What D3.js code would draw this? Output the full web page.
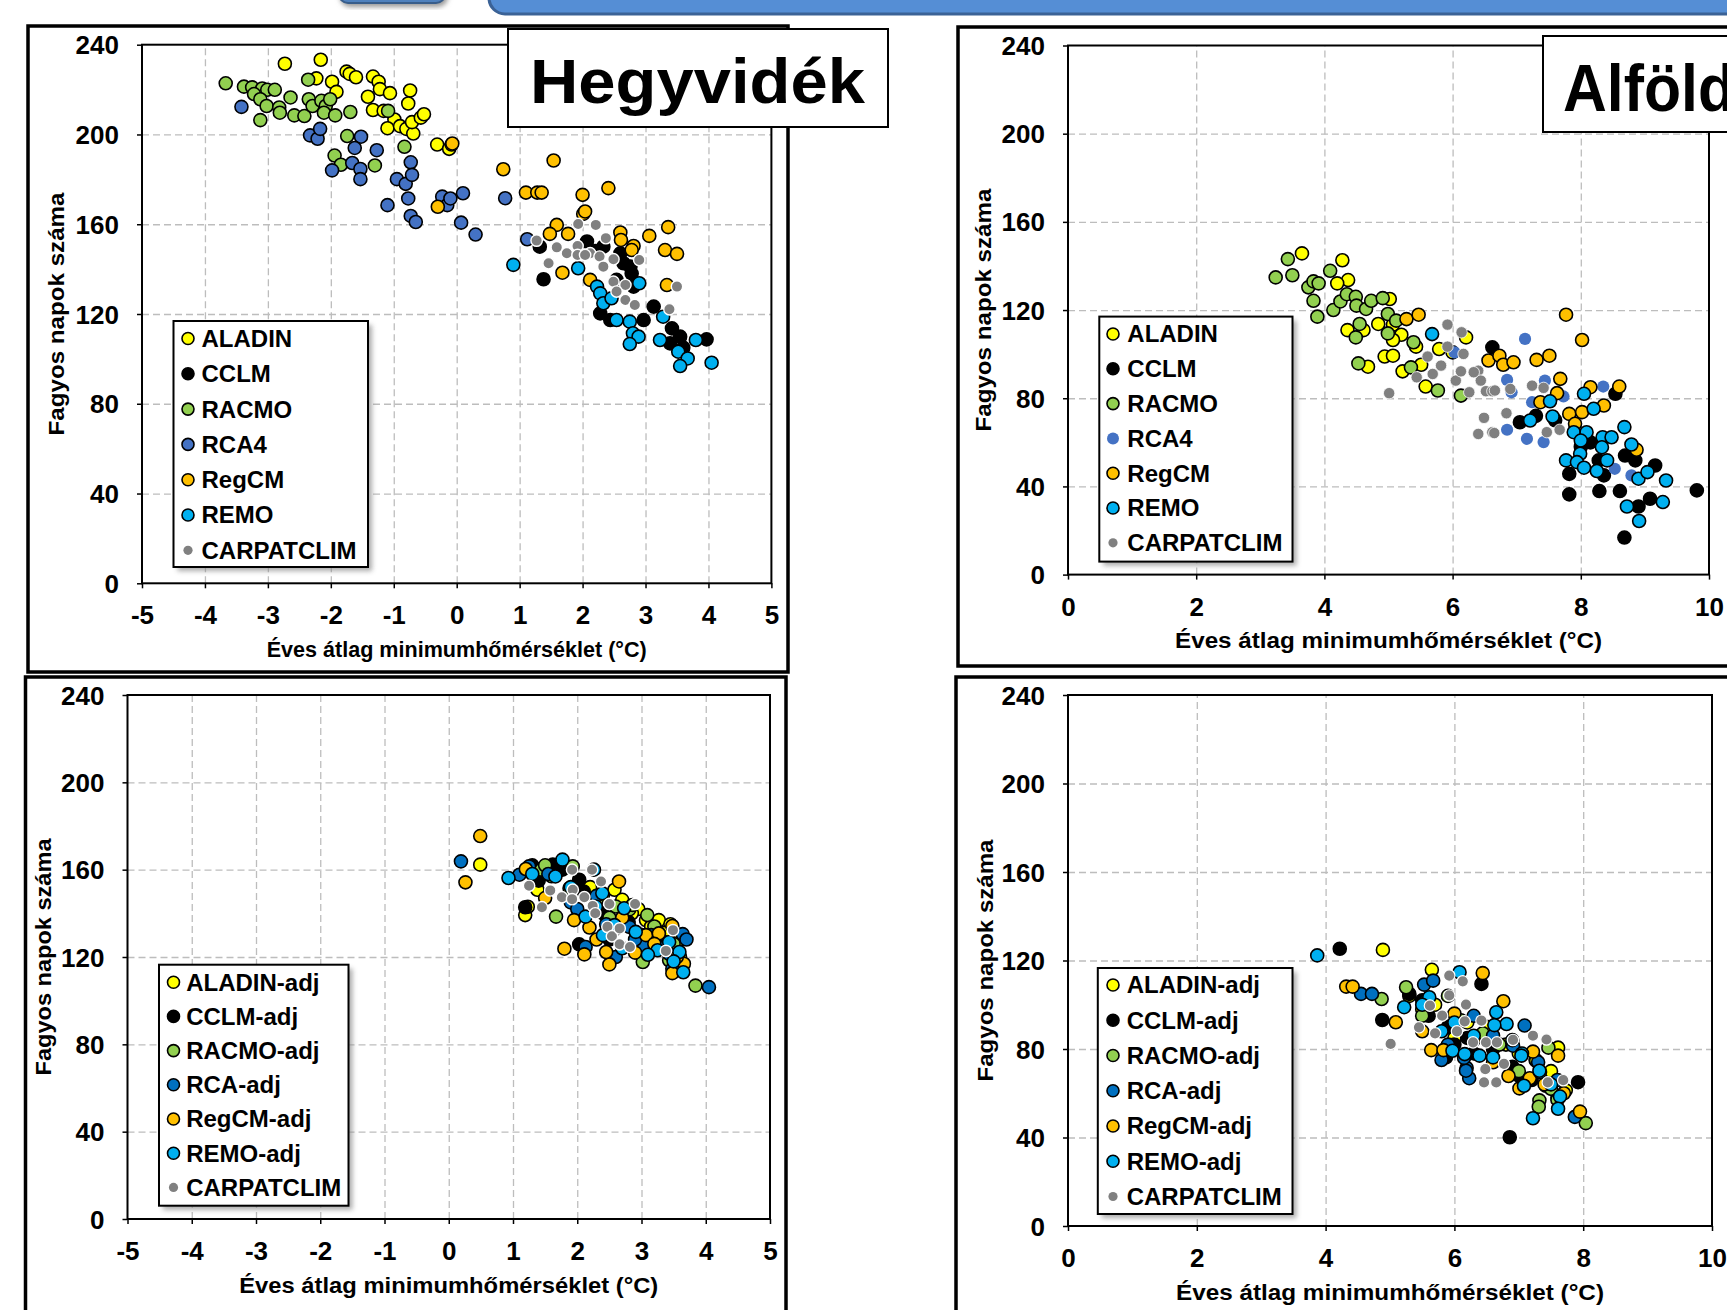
<!DOCTYPE html>
<html lang="hu">
<head>
<meta charset="utf-8">
<title>Fagyos napok száma</title>
<script src="https://cdn.jsdelivr.net/npm/d3@7"></script>
<style>
body { margin: 0; background: #fff; }
svg { display: block; font-family: "Liberation Sans", Arial, sans-serif; font-weight: bold; }
</style>
</head>
<body>
<svg id="chart" width="1727" height="1310"></svg>
<script>
// ---- adatok (leolvasva) ----
const rawNames = ["ALADIN", "CCLM", "RACMO", "RCA4", "RegCM", "REMO", "CARPATCLIM"];
const adjNames = ["ALADIN-adj", "CCLM-adj", "RACMO-adj", "RCA-adj", "RegCM-adj", "REMO-adj", "CARPATCLIM"];
const yTicks = [0, 40, 80, 120, 160, 200, 240];
const xTicksHegy = [-5, -4, -3, -2, -1, 0, 1, 2, 3, 4, 5];
const xTicksAlfold = [0, 2, 4, 6, 8, 10];

// Hegyvidék, modellek
const hegyAladin = [[-2.73,231.5],[-2.16,233.3],[-2.23,225.0],[-1.98,223.5],[-1.91,219.0],[-1.75,228.0],[-1.70,227.0],[-1.60,225.5],[-1.33,225.8],[-1.24,223.5],[-1.22,220.2],[-1.06,218.4],[-1.41,216.8],[-1.33,210.9],[-1.16,210.5],[-0.74,219.6],[-0.77,213.8],[-0.99,206.7],[-1.10,202.8],[-0.90,203.7],[-0.80,202.5],[-0.69,200.4],[-0.71,205.5],[-0.57,207.5],[-0.52,209.0],[-0.31,195.5],[-0.12,193.6],[-0.08,195.5]];
const hegyCclm = [[1.38,135.5],[2.28,120.3],[2.44,117.3],[3.13,123.3],[3.42,113.6],[3.55,109.9],[3.97,108.7],[2.07,152.3],[2.33,150.0],[2.65,142.6],[2.76,141.1],[2.54,135.2],[2.81,132.2],[2.97,117.3],[3.39,106.9],[1.32,150.0],[2.78,138.0],[2.20,148.0],[2.60,147.0],[3.60,105.0]];
const hegyRacmo = [[-3.67,222.8],[-3.38,221.3],[-3.25,221.0],[-3.09,220.5],[-3.01,219.9],[-2.89,219.9],[-3.22,218.0],[-3.12,215.7],[-3.02,212.7],[-2.82,212.0],[-2.81,209.7],[-2.64,216.5],[-2.58,208.5],[-2.42,208.2],[-2.36,224.4],[-2.35,215.7],[-2.29,212.7],[-2.15,215.0],[-2.08,212.7],[-2.11,209.7],[-2.01,215.7],[-1.93,208.5],[-1.69,210.0],[-3.12,206.4],[-1.74,199.3],[-1.94,190.6],[-1.84,186.5],[-1.30,186.2],[-1.09,210.5],[-0.83,194.5]];
const hegyRca = [[-3.42,212.3],[-2.33,199.6],[-2.21,198.1],[-2.17,202.5],[-1.52,199.0],[-1.62,194.0],[-1.27,193.0],[-1.98,184.0],[-1.66,187.3],[-1.53,184.6],[-1.53,180.1],[-0.95,180.1],[-0.81,178.0],[-0.73,187.6],[-0.71,182.0],[-0.77,171.5],[-1.10,168.5],[-0.73,163.7],[-0.65,161.0],[-0.23,172.3],[-0.15,168.5],[-0.10,171.5],[0.10,173.8],[0.07,160.7],[0.30,155.4],[0.77,171.6],[1.12,153.3]];
const hegyRegcm = [[-0.07,196.0],[-0.30,167.8],[0.74,184.5],[1.54,188.4],[1.10,174.1],[1.28,174.1],[1.35,174.1],[2.00,173.1],[2.41,176.1],[2.01,164.6],[2.04,165.7],[1.59,159.7],[1.48,155.7],[1.77,155.7],[2.60,156.3],[2.61,153.0],[2.81,150.3],[2.78,148.5],[3.06,154.8],[3.36,158.7],[3.31,148.5],[3.50,146.8],[1.68,138.4],[2.12,135.2],[3.34,132.9]];
const hegyRemo = [[0.90,141.9],[1.93,140.4],[2.23,132.2],[2.28,129.2],[2.33,124.8],[2.46,127.0],[2.54,117.3],[2.75,116.6],[2.80,111.4],[2.89,109.9],[2.75,106.6],[2.90,133.7],[3.23,108.4],[3.28,118.8],[3.52,103.2],[3.67,100.2],[3.55,96.8],[3.80,108.4],[4.05,98.3]];
const hegyCarpat = [[1.27,152.7],[1.59,149.7],[1.46,142.6],[1.93,160.1],[2.21,159.7],[2.37,153.8],[1.75,147.1],[1.92,150.3],[1.92,146.3],[2.12,147.1],[2.27,145.6],[2.33,141.1],[2.49,144.4],[2.90,144.1],[2.49,134.4],[2.68,132.9],[2.54,130.0],[2.68,126.2],[2.83,124.0],[3.38,122.1],[3.50,132.2],[2.04,146.3]];

// Alföld, modellek
const alfAladin = [[3.65,145.7],[4.28,142.6],[4.37,133.6],[4.20,132.1],[5.02,125.0],[4.36,110.9],[4.61,110.9],[4.84,113.7],[5.07,113.4],[5.20,108.8],[5.07,106.4],[4.94,98.9],[5.07,99.3],[4.68,94.3],[5.22,92.2],[5.43,103.4],[5.51,95.2],[5.58,85.3],[6.21,107.6],[5.79,102.3],[6.00,100.8]];
const alfCclm = [[6.62,103.1],[7.05,69.1],[7.82,45.7],[7.82,36.4],[8.29,37.9],[8.61,37.9],[8.36,45.0],[8.69,54.0],[8.85,51.8],[9.16,49.5],[9.08,34.4],[8.90,30.9],[8.68,16.8],[9.81,38.2],[8.54,82.0],[8.28,51.8],[7.30,72.0],[7.60,70.0],[8.15,60.0],[8.00,58.0]];
const alfRacmo = [[3.24,134.8],[3.43,143.1],[3.50,135.8],[3.75,130.3],[3.83,133.0],[3.91,132.1],[3.83,124.2],[3.89,117.0],[4.09,137.8],[4.14,120.0],[4.25,123.9],[4.35,127.2],[4.49,126.0],[4.50,122.0],[4.65,120.5],[4.73,124.2],[4.91,125.4],[4.99,118.2],[4.55,113.7],[4.49,107.6],[4.99,109.4],[5.12,115.2],[5.39,105.4],[4.53,95.8],[5.35,94.0],[5.77,83.5],[6.13,81.2]];
const alfRca = [[6.03,100.8],[7.13,106.9],[8.35,85.3],[6.85,88.3],[6.92,82.7],[7.24,78.2],[7.44,88.0],[7.73,80.8],[6.85,65.7],[7.16,61.6],[7.42,60.1],[8.53,48.0],[8.79,45.0]];
const alfRegcm = [[5.28,115.9],[5.47,117.9],[7.77,117.9],[8.02,106.4],[6.56,97.1],[6.73,99.3],[6.79,95.2],[6.95,96.3],[7.31,97.4],[7.51,99.3],[7.68,88.8],[7.63,82.3],[7.37,78.2],[7.82,72.9],[8.02,73.7],[7.91,68.4],[8.15,85.0],[8.60,85.3],[8.36,76.7],[8.87,56.6]];
const alfRemo = [[5.68,109.1],[8.05,82.0],[7.52,78.6],[7.56,71.7],[7.21,69.9],[8.20,75.2],[7.89,64.6],[8.09,64.6],[8.00,60.8],[8.34,62.3],[8.48,62.3],[8.33,57.8],[8.68,66.9],[8.79,59.0],[7.99,54.8],[7.77,51.8],[7.94,51.0],[8.05,48.5],[8.25,47.0],[8.41,51.8],[8.90,43.5],[9.04,46.5],[9.33,42.7],[8.72,30.9],[8.91,24.3],[9.28,32.9]];
const alfCarpat = [[5.01,82.3],[5.44,89.5],[5.61,98.9],[5.69,91.0],[5.82,94.8],[5.92,113.4],[5.92,103.4],[6.14,109.9],[6.17,100.1],[6.05,88.0],[6.13,92.2],[6.26,82.7],[6.40,92.5],[6.44,88.0],[6.52,83.2],[6.62,83.2],[6.49,71.1],[6.40,63.8],[6.62,64.6],[6.33,91.8],[6.66,83.5],[6.90,84.2],[7.24,85.7],[7.42,84.7],[6.84,73.2],[6.65,64.2],[7.47,64.6],[7.67,65.7]];

// Hegyvidék, korrigált
const hegyAdjAladin = [[0.49,162.3],[1.19,139.2],[1.38,150.8],[2.58,150.8],[3.27,136.9],[2.70,146.2],[3.07,136.9],[1.23,143.0],[2.95,142.0],[3.45,135.0],[1.55,160.0],[2.20,152.0],[2.40,148.0],[2.85,140.0],[3.15,134.0],[3.35,131.0],[3.60,128.0]];
const hegyAdjCclm = [[1.19,142.8],[1.62,162.3],[2.03,155.4],[2.03,125.8],[1.77,160.0],[1.30,162.0],[2.50,128.0],[3.20,127.0],[2.80,136.0],[1.40,155.0],[2.10,150.0],[2.40,140.0],[2.60,133.0],[3.00,130.0],[3.30,128.0],[3.50,118.0]];
const hegyAdjRacmo = [[1.44,160.0],[1.93,161.5],[1.67,138.5],[2.60,143.1],[2.81,141.8],[3.09,139.2],[2.86,143.8],[3.02,117.7],[3.27,130.8],[3.84,106.9],[1.88,151.5],[3.43,118.5],[1.50,162.0],[1.60,157.0],[2.30,146.0],[2.50,138.0],[3.20,134.0],[3.50,126.0],[3.60,120.0]];
const hegyAdjRca = [[0.19,163.8],[1.10,157.7],[1.25,161.5],[2.13,124.6],[2.60,120.0],[3.02,125.4],[3.15,130.0],[3.64,130.5],[3.43,121.5],[4.05,106.2],[2.81,133.8],[3.48,114.6],[2.30,148.0],[1.90,145.0],[1.55,158.0],[2.00,142.0],[2.45,135.0],[2.90,128.0],[3.30,124.0],[3.70,128.0]];
const hegyAdjRegcm = [[0.49,175.4],[0.26,154.2],[1.20,160.3],[2.65,154.6],[1.80,123.8],[2.11,121.2],[2.50,116.6],[1.95,136.9],[2.19,133.5],[2.45,122.3],[3.07,130.0],[3.27,130.8],[3.48,134.2],[3.66,116.9],[3.48,112.6],[1.50,147.0],[2.30,128.0],[2.70,138.0],[2.90,122.0],[3.20,126.0],[3.55,120.0]];
const hegyAdjRemo = [[0.93,156.2],[1.77,164.6],[1.66,156.9],[2.26,160.0],[2.39,149.2],[2.13,138.5],[2.58,134.6],[2.73,142.3],[2.91,131.5],[3.25,123.1],[3.59,122.3],[3.43,126.9],[2.29,143.1],[1.30,158.0],[1.90,152.0],[2.40,130.0],[2.70,124.0],[3.10,121.0],[3.50,118.0],[3.65,113.0]];
const hegyAdjCarpat = [[1.25,152.6],[1.45,142.8],[1.58,150.5],[1.76,147.4],[1.92,160.0],[1.93,150.8],[1.92,146.5],[2.11,147.4],[2.23,160.0],[2.37,154.6],[2.24,143.4],[2.28,140.0],[2.50,144.3],[2.47,133.8],[2.54,129.5],[2.66,133.1],[2.66,125.8],[2.82,124.6],[2.90,144.3],[3.38,122.8],[3.49,132.3]];

// Alföld, korrigált
const alfAdjAladin = [[4.89,124.8],[5.65,115.8],[7.61,80.6],[7.26,75.1],[7.73,61.3],[7.42,63.4],[7.27,74.7],[5.50,98.0],[6.20,92.0],[6.00,85.0],[5.30,104.0],[5.70,100.0],[6.50,90.0],[6.80,82.0],[7.00,78.0],[7.50,70.0]];
const alfAdjCclm = [[4.22,125.3],[4.88,93.1],[6.42,109.4],[5.30,104.9],[6.86,40.1],[7.92,65.0],[7.01,67.8],[5.87,76.2],[5.60,95.0],[6.00,82.0],[6.30,78.0],[5.50,102.0],[5.90,90.0],[6.20,85.0],[6.60,80.0],[6.90,72.0],[7.20,66.0],[7.60,58.0]];
const alfAdjRacmo = [[4.87,102.6],[5.25,107.9],[5.57,101.9],[8.04,46.5],[7.32,56.8],[7.31,53.9],[7.46,80.6],[6.44,87.1],[5.50,95.0],[5.90,104.0],[6.10,93.0],[6.70,82.0],[7.00,70.0],[7.50,62.0],[7.60,57.0]];
const alfAdjRca = [[4.55,104.9],[4.72,104.9],[5.53,109.1],[5.67,110.9],[7.09,90.6],[7.87,49.3],[6.19,71.4],[6.23,66.8],[6.18,70.2],[6.91,81.5],[6.15,76.0],[5.80,75.0],[5.90,82.0],[6.30,95.0],[6.60,86.0],[7.30,74.0],[7.60,66.0]];
const alfAdjRegcm = [[4.32,108.2],[4.42,108.2],[5.09,92.1],[6.44,114.3],[6.76,101.6],[5.64,79.5],[5.83,79.5],[7.95,51.7],[7.61,77.0],[7.22,78.8],[7.01,62.2],[7.17,66.8],[6.84,67.8],[5.50,88.0],[6.00,96.0],[6.30,84.0],[6.60,74.0],[7.40,64.0],[7.70,60.0]];
const alfAdjRemo = [[3.87,122.3],[5.22,98.9],[6.08,114.7],[5.61,103.4],[6.65,96.6],[6.81,91.3],[7.22,48.7],[7.64,58.5],[7.61,53.0],[7.08,63.4],[7.33,69.6],[7.05,78.0],[6.62,90.8],[6.39,77.0],[5.97,79.2],[6.16,77.7],[6.60,76.2],[7.04,77.0],[7.32,70.2],[5.50,100.0],[5.80,88.0],[6.00,92.0],[6.30,86.0],[6.90,84.0],[7.50,64.0]];
const alfAdjCarpat = [[5.01,82.3],[5.92,113.2],[6.13,110.6],[5.92,104.2],[6.18,100.1],[5.62,99.6],[5.81,95.1],[5.45,89.8],[5.70,87.1],[6.04,88.0],[6.16,92.5],[6.42,92.8],[6.29,83.0],[6.49,83.0],[6.66,83.0],[6.91,84.1],[7.22,86.0],[6.48,70.9],[7.43,84.3],[7.69,65.9],[7.45,64.9],[6.77,73.3],[6.46,64.9],[6.65,64.9]];

// színek, sorrend = jelmagyarázat
const rawColors = ["#ffff00", "#000000", "#92d050", "#4472c4", "#ffc000", "#00b0f0", "#808080"];
const adjColors = ["#ffff00", "#000000", "#92d050", "#0070c0", "#ffc000", "#00b0f0", "#808080"];

const svg = d3.select("#chart");

// dia fejléc maradványa
const defs = svg.append("defs");
defs.append("filter").attr("id", "blur")
    .append("feGaussianBlur").attr("stdDeviation", 2.5);
svg.append("rect").attr("x", 340).attr("y", -20).attr("width", 108).attr("height", 27)
    .attr("rx", 10).attr("fill", "#999").attr("filter", "url(#blur)");
svg.append("rect").attr("x", 339).attr("y", -20).attr("width", 106).attr("height", 23)
    .attr("rx", 9).attr("fill", "#4f81bd").attr("stroke", "#385d8a").attr("stroke-width", 2);
svg.append("rect").attr("x", 489).attr("y", -40).attr("width", 1300).attr("height", 54)
    .attr("rx", 16).attr("fill", "#558ed5").attr("stroke", "#3b6296").attr("stroke-width", 3);

function drawPanel(p) {
    const g = svg.append("g");
    const width = p.right - p.left, height = p.bottom - p.top;

    // külső keret
    g.append("rect")
        .attr("x", p.frame[0]).attr("y", p.frame[1])
        .attr("width", p.frame[2]).attr("height", p.frame[3])
        .attr("fill", "none").attr("stroke", "#000").attr("stroke-width", 3.5);

    const x = d3.scaleLinear().domain(p.xDomain).range([p.left, p.right]);
    const y = d3.scaleLinear().domain([0, 240]).range([p.bottom, p.top]);

    // rács
    g.append("g")
        .attr("transform", `translate(0,${p.bottom})`)
        .call(d3.axisBottom(x).tickValues(p.xTicks.slice(1, -1)).tickSize(-height).tickFormat(""))
        .call(a => a.select(".domain").remove())
        .call(a => a.selectAll("line").attr("stroke", "#bdbdbd").attr("stroke-width", 1.3).attr("stroke-dasharray", "7,4"));
    g.append("g")
        .attr("transform", `translate(${p.left},0)`)
        .call(d3.axisLeft(y).tickValues(yTicks.slice(1, -1)).tickSize(-width).tickFormat(""))
        .call(a => a.select(".domain").remove())
        .call(a => a.selectAll("line").attr("stroke", "#bdbdbd").attr("stroke-width", 1.3).attr("stroke-dasharray", "7,4"));

    // tengelyek
    g.append("g")
        .attr("transform", `translate(0,${p.bottom})`)
        .call(d3.axisBottom(x).tickValues(p.xTicks).tickSize(5).tickFormat(d => String(d)))
        .call(a => a.select(".domain").remove())
        .call(a => a.selectAll("line").attr("stroke", "#000").attr("stroke-width", 1.5))
        .call(a => a.selectAll("text").attr("y", 32).attr("dy", "0.35em")
            .attr("font-size", 26).attr("font-family", null).attr("fill", "#000"));
    g.append("g")
        .attr("transform", `translate(${p.left},0)`)
        .call(d3.axisLeft(y).tickValues(yTicks).tickSize(5).tickFormat(d => String(d)))
        .call(a => a.select(".domain").remove())
        .call(a => a.selectAll("line").attr("stroke", "#000").attr("stroke-width", 1.5))
        .call(a => a.selectAll("text").attr("x", -23).attr("dy", "0.35em")
            .attr("font-size", 26).attr("font-family", null).attr("fill", "#000"));

    g.append("rect")
        .attr("x", p.left).attr("y", p.top).attr("width", width).attr("height", height)
        .attr("fill", "none").attr("stroke", "#000").attr("stroke-width", 2);

    // pontok
    p.series.forEach((pts, i) => {
        const gray = i === 6;
        const plain = gray || (p.plainRca && i === 3);
        g.append("g").selectAll("circle")
            .data(pts)
            .join("circle")
            .attr("cx", d => x(d[0]))
            .attr("cy", d => y(d[1]))
            .attr("r", gray ? 5.7 : (plain ? 6.1 : 6.5))
            .attr("fill", p.colors[i])
            .attr("stroke", gray ? "#fff" : (plain ? "none" : "#000"))
            .attr("stroke-width", gray ? p.grayStroke : 1.6);
    });

    // tengelycímek
    g.append("text")
        .attr("x", (p.left + p.right) / 2).attr("y", p.bottom + 66).attr("dy", "0.35em")
        .attr("text-anchor", "middle").attr("font-size", 22)
        .attr("textLength", p.xTitleLen).attr("lengthAdjust", "spacingAndGlyphs")
        .text("Éves átlag minimumhőmérséklet (°C)");
    g.append("text")
        .attr("transform", `translate(${p.yTitleX},${(p.top + p.bottom) / 2}) rotate(-90)`)
        .attr("dy", "0.35em").attr("text-anchor", "middle").attr("font-size", 22)
        .attr("textLength", p.yTitleLen).attr("lengthAdjust", "spacingAndGlyphs")
        .text("Fagyos napok száma");

    // jelmagyarázat
    const L = p.legend;
    g.append("rect")
        .attr("x", L.x + 4).attr("y", L.y + 4).attr("width", L.w).attr("height", L.h)
        .attr("fill", "#888").attr("opacity", 0.7).attr("filter", "url(#blur)");
    g.append("rect")
        .attr("x", L.x).attr("y", L.y).attr("width", L.w).attr("height", L.h)
        .attr("fill", "#fff").attr("stroke", "#000").attr("stroke-width", 2);
    const item = g.append("g").selectAll("g")
        .data(p.names)
        .join("g")
        .attr("transform", (d, i) => `translate(0,${L.y0 + i * L.step})`);
    item.append("circle")
        .attr("cx", L.mx)
        .attr("r", (d, i) => i === 6 ? 4.6 : 6)
        .attr("fill", (d, i) => p.colors[i])
        .attr("stroke", (d, i) => (i === 6 || (p.plainRca && i === 3)) ? "none" : "#000")
        .attr("stroke-width", 1.6);
    item.append("text")
        .attr("x", L.tx).attr("dy", "0.35em").attr("font-size", 24)
        .text(d => d);

    // régió felirat
    if (p.title) {
        const T = p.title;
        g.append("rect")
            .attr("x", T.x).attr("y", T.y).attr("width", T.w).attr("height", T.h)
            .attr("fill", "#fff").attr("stroke", "#000").attr("stroke-width", 2);
        g.append("text")
            .attr("x", T.tx).attr("y", T.ty).attr("font-size", T.size)
            .attr("textLength", T.len).attr("lengthAdjust", "spacingAndGlyphs")
            .text(T.text);
    }
}

drawPanel({
    left: 142, right: 771.4, top: 44.7, bottom: 583.3,
    xDomain: [-5, 5], xTicks: xTicksHegy, frame: [28, 26, 760, 646],
    series: [hegyAladin, hegyCclm, hegyRacmo, hegyRca, hegyRegcm, hegyRemo, hegyCarpat],
    names: rawNames, colors: rawColors, grayStroke: 1.4,
    xTitleLen: 380, yTitleX: 56, yTitleLen: 243,
    legend: { x: 173.5, y: 321, w: 194.5, h: 246, y0: 338.5, step: 35.3, mx: 188, tx: 201.5 },
    title: { x: 508, y: 29, w: 380, h: 98, tx: 530, ty: 103, size: 63, len: 335, text: "Hegyvidék" }
});
drawPanel({
    left: 1068, right: 1709, top: 45.5, bottom: 574.6,
    xDomain: [0, 10], xTicks: xTicksAlfold, frame: [958, 27, 800, 639],
    series: [alfAladin, alfCclm, alfRacmo, alfRca, alfRegcm, alfRemo, alfCarpat],
    names: rawNames, colors: rawColors, grayStroke: 0.8, plainRca: true,
    xTitleLen: 427, yTitleX: 983.5, yTitleLen: 243,
    legend: { x: 1099.3, y: 316.6, w: 193.2, h: 245, y0: 334, step: 34.8, mx: 1113, tx: 1127.3 },
    title: { x: 1543, y: 36, w: 260, h: 96, tx: 1563, ty: 110.5, size: 66, len: 172, text: "Alföld" }
});
drawPanel({
    left: 127.5, right: 770, top: 695, bottom: 1219,
    xDomain: [-5, 5], xTicks: xTicksHegy, frame: [25.5, 677, 760.5, 700],
    series: [hegyAdjAladin, hegyAdjCclm, hegyAdjRacmo, hegyAdjRca, hegyAdjRegcm, hegyAdjRemo, hegyAdjCarpat],
    names: adjNames, colors: adjColors, grayStroke: 1.4,
    xTitleLen: 419, yTitleX: 43.5, yTitleLen: 237,
    legend: { x: 159, y: 964.7, w: 189.5, h: 241, y0: 982.2, step: 34.2, mx: 173.5, tx: 186.2 }
});
drawPanel({
    left: 1068, right: 1712, top: 695, bottom: 1226,
    xDomain: [0, 10], xTicks: xTicksAlfold, frame: [956, 677, 800, 700],
    series: [alfAdjAladin, alfAdjCclm, alfAdjRacmo, alfAdjRca, alfAdjRegcm, alfAdjRemo, alfAdjCarpat],
    names: adjNames, colors: adjColors, grayStroke: 1.2,
    xTitleLen: 428, yTitleX: 985, yTitleLen: 242,
    legend: { x: 1097.8, y: 968, w: 194.7, h: 246, y0: 985, step: 35.25, mx: 1113, tx: 1126.7 }
});
</script>
</body>
</html>
